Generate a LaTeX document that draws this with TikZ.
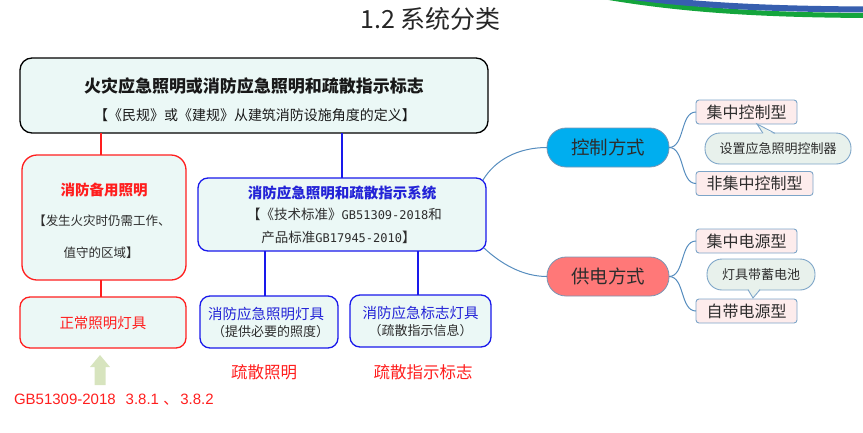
\documentclass[tikz,border=0pt]{standalone}
\usepackage{fontspec}
\setmainfont{Noto Sans CJK SC}
\newfontfamily\latinfont{Liberation Sans}
\newfontfamily\monofont{DejaVu Sans Mono}
\usetikzlibrary{calc}
\definecolor{boxfill}{RGB}{235,248,246}
\definecolor{myred}{RGB}{255,30,30}
\definecolor{myblue}{RGB}{25,25,235}
\definecolor{txtblue}{RGB}{35,35,215}
\definecolor{txtdark}{RGB}{45,45,45}
\definecolor{branchc}{RGB}{85,140,190}
\definecolor{leaffill}{RGB}{253,236,236}
\definecolor{leafdraw}{RGB}{125,165,200}
\definecolor{callfill}{RGB}{232,241,236}
\definecolor{pillblue}{RGB}{0,174,239}
\definecolor{pillred}{RGB}{255,120,120}
\definecolor{pilldraw}{RGB}{120,150,180}
\definecolor{arrowgreen}{RGB}{215,228,190}
\definecolor{swblue}{RGB}{55,95,175}
\definecolor{swgreen}{RGB}{20,165,60}
\newcommand\fsz[1]{\fontsize{#1}{#1}\selectfont}
\tikzset{
  boxbase/.style={inner sep=0pt, outer sep=0pt, fill=boxfill, line width=1.3pt},
  topbox/.style={boxbase, draw=black, rounded corners=12pt},
  redbox/.style={boxbase, draw=myred, rounded corners=15pt},
  redbox2/.style={boxbase, draw=myred, rounded corners=10pt},
  bluebox/.style={boxbase, draw=myblue, rounded corners=10pt},
  redline/.style={draw=myred, line width=1.3pt},
  blueline/.style={draw=myblue, line width=1.3pt},
  pill/.style={inner sep=0pt, outer sep=0pt, draw=pilldraw, line width=0.8pt, rounded corners=19pt, minimum width=122pt, minimum height=39pt, font=\fsz{18.5}, text=txtdark},
  leaf/.style={inner sep=0pt, outer sep=0pt, draw=leafdraw, fill=leaffill, line width=0.9pt, rounded corners=3pt, minimum height=24pt, font=\fsz{16}, text=txtdark},
  callout/.style={inner sep=0pt, outer sep=0pt, draw=leafdraw, fill=callfill, line width=0.9pt, rounded corners=15pt, minimum height=31pt, font=\fsz{13}, text=txtdark},
  branch/.style={draw=branchc, line width=1pt},
  lbl/.style={inner sep=0pt, outer sep=0pt},
}
\begin{document}
\begin{tikzpicture}[x=1pt,y=-1pt]
\useasboundingbox (0,0) rectangle (863,432);
% decoration swoosh
\begin{scope}
\clip (0,0) rectangle (863,432);
\draw[swgreen, line width=5pt] (600,-4) .. controls (680,10) and (760,15) .. (870,15.5);
\draw[swblue, line width=6pt] (598,-8) .. controls (680,5) and (760,9) .. (870,9.5);
\end{scope}
% title
\node[lbl, font=\fsz{25}, text=black!85] (title) at (430.5,19) {1.2 系统分类};

% top box
\node[topbox, minimum width=468pt, minimum height=75pt] (top) at (254,95.5) {};
\node[lbl, font=\bfseries\fsz{17}, text=black!90] (topt1) at (254,86) {火灾应急照明或消防应急照明和疏散指示标志};
\node[lbl, font=\fsz{14}, text=black!90] (topt2) at (255,115) {【《民规》或《建规》从建筑消防设施角度的定义】};

% red column
\node[redbox, minimum width=164pt, minimum height=125pt] (backup) at (104,217.5) {};
\node[lbl, font=\bfseries\fsz{14.5}, text=myred] (backupt1) at (104,190) {消防备用照明};
\node[lbl, font=\fsz{12.5}, text=txtdark] (backupt2) at (102,221) {【发生火灾时仍需工作、};
\node[lbl, font=\fsz{12.5}, text=txtdark] (backupt3) at (101,253) {值守的区域】};
\node[redbox2, minimum width=166pt, minimum height=51pt] (normal) at (103,322.5) {};
\node[lbl, font=\fsz{14.5}, text=myred] (normalt) at (103,323) {正常照明灯具};
\draw[redline] (top.south -| 101,0) -- (backup.north -| 101,0);
\draw[redline] (backup.south -| 101,0) -- (normal.north -| 101,0);

% green arrow and norm reference
\node[lbl, anchor=west, font=\latinfont\fsz{15}, text=myred] (gb) at (14,400) {GB51309-2018\hspace{10pt}3.8.1 {\rmfamily 、}\hspace{2pt}3.8.2};
\coordinate (tip) at ($(normal.south)+(-3,7)$);
\fill[arrowgreen] (tip) -- ++(10,12) -- ++(-4.5,0) -- ++(0,18) -- ++(-11,0) -- ++(0,-18) -- ++(-4.5,0) -- cycle;

% blue system
\node[bluebox, minimum width=288pt, minimum height=73pt] (sys) at (342,214.5) {};
\node[lbl, font=\bfseries\fsz{14.5}, text=txtblue] (syst1) at (342,193) {消防应急照明和疏散指示系统};
\node[lbl, font=\fsz{13.5}, text=txtdark] (syst2) at (344.5,214) {【《技术标准》{\monofont\fsz{12}GB51309-2018}和};
\node[lbl, font=\fsz{13.5}, text=txtdark] (syst3) at (338.5,237) {产品标准{\monofont\fsz{12}GB17945-2010}】};
\draw[blueline] (top.south -| sys.north) -- (sys.north);

\node[bluebox, minimum width=138pt, minimum height=52pt] (lamp1) at (269,322) {};
\node[lbl, font=\fsz{14.5}, text=txtblue] (lamp1t1) at (266,313.5) {消防应急照明灯具};
\node[lbl, font=\fsz{13}, text=txtdark] (lamp1t2) at (270.5,331.5) {（提供必要的照度）};
\node[bluebox, minimum width=141pt, minimum height=52pt] (lamp2) at (420.5,321) {};
\node[lbl, font=\fsz{14.5}, text=txtblue] (lamp2t1) at (420.5,313) {消防应急标志灯具};
\node[lbl, font=\fsz{13}, text=txtdark] (lamp2t2) at (420.5,331) {（疏散指示信息）};
\draw[blueline] (sys.south -| 265,0) -- (lamp1.north -| 265,0);
\draw[blueline] (sys.south -| 418,0) -- (lamp2.north -| 418,0);

\node[lbl, font=\fsz{16.5}, text=myred] (evl) at (264,372) {疏散照明};
\node[lbl, font=\fsz{16.5}, text=myred] (evs) at (423,372) {疏散指示标志};

% right mind map
\node[pill, fill=pillblue] (ctrl) at (608,147.5) {控制方式};
\node[pill, fill=pillred] (pwr) at (608,276.5) {供电方式};
\draw[branch] ($(sys.north east)+(-3,2)$) .. controls (495,160) and (518,147.5) .. (ctrl.west);
\draw[branch] ($(sys.south east)+(-2,-3)$) .. controls (500,263) and (522,276.5) .. (pwr.west);

\node[leaf, minimum width=101pt] (jzk) at (746.5,112) {集中控制型};
\node[leaf, minimum width=117pt] (fjzk) at (754.5,183.5) {非集中控制型};
\node[leaf, minimum width=101pt] (jzdy) at (746.5,241) {集中电源型};
\node[leaf, minimum width=101pt] (zd) at (746.5,311) {自带电源型};

\draw[branch] (ctrl.east) .. controls (685,147.5) and (680,112) .. (jzk.west);
\draw[branch] (ctrl.east) .. controls (685,147.5) and (680,183.5) .. (fjzk.west);
\draw[branch] (pwr.east) .. controls (685,276.5) and (680,241) .. (jzdy.west);
\draw[branch] (pwr.east) .. controls (685,276.5) and (680,311) .. (zd.west);

% callouts
\node[callout, minimum width=146pt] (sz) at (778,148.5) {设置应急照明控制器};
\coordinate (sztip) at ($(jzk.south)+(10.5,0)$);
\fill[callfill] ($(sz.north)+(-15,2)$) -- (sztip) -- ($(sz.north)+(-3,2)$) -- cycle;
\draw[leafdraw, line width=0.9pt] ($(sz.north)+(-15,0.3)$) -- (sztip) -- ($(sz.north)+(-3,0.3)$);

\node[callout, minimum width=108pt] (dc) at (761,274.5) {灯具带蓄电池};
\coordinate (dctip) at ($(zd.north)+(6.5,-1)$);
\fill[callfill] ($(dc.south)+(-13,-2)$) -- (dctip) -- ($(dc.south)+(-1,-2)$) -- cycle;
\draw[leafdraw, line width=0.9pt] ($(dc.south)+(-13,-0.3)$) -- (dctip) -- ($(dc.south)+(-1,-0.3)$);
\end{tikzpicture}
\end{document}
